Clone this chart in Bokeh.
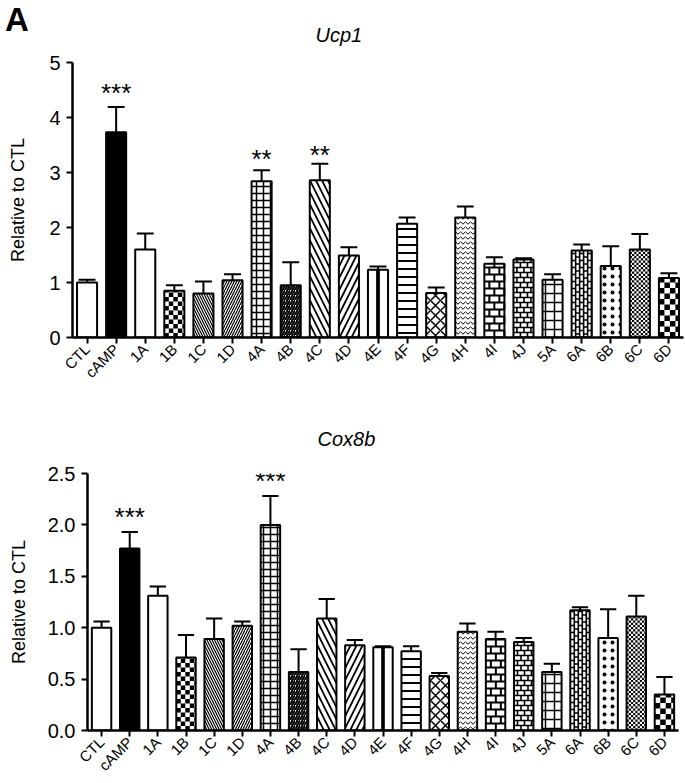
import math
from bokeh.plotting import figure
from bokeh.models import (ColumnDataSource, Range1d, FixedTicker, Div,
                          NumeralTickFormatter, CustomJSTickFormatter)
from bokeh.layouts import column, row
from bokeh.core.properties import value, field
from bokeh.embed import file_html
from bokeh.resources import INLINE

# ---------------- data ----------------
categories = ["CTL", "cAMP", "1A", "1B", "1C", "1D", "4A", "4B", "4C", "4D", "4E",
              "4F", "4G", "4H", "4I", "4J", "5A", "6A", "6B", "6C", "6D"]

ucp1_mean = [1.00, 3.73, 1.60, 0.85, 0.80, 1.04, 2.84, 0.95, 2.86, 1.49, 1.23,
             2.07, 0.81, 2.18, 1.34, 1.42, 1.05, 1.58, 1.30, 1.60, 1.08]
ucp1_sem = [0.05, 0.46, 0.29, 0.10, 0.22, 0.11, 0.20, 0.42, 0.30, 0.15, 0.06,
            0.11, 0.10, 0.20, 0.12, 0.02, 0.10, 0.11, 0.36, 0.28, 0.09]

cox8b_mean = [1.00, 1.77, 1.31, 0.71, 0.89, 1.02, 2.00, 0.57, 1.09, 0.83, 0.81,
              0.77, 0.53, 0.96, 0.89, 0.86, 0.57, 1.17, 0.90, 1.11, 0.35]
cox8b_sem = [0.06, 0.16, 0.09, 0.22, 0.20, 0.04, 0.28, 0.22, 0.19, 0.05, 0.01,
             0.05, 0.03, 0.08, 0.07, 0.04, 0.08, 0.03, 0.28, 0.20, 0.17]

ucp1_star_cats = ["cAMP", "4A", "4C"]
ucp1_star_text = ["***", "**", "**"]
ucp1_star_y = [4.45, 3.24, 3.31]

cox8b_star_cats = ["cAMP", "4A"]
cox8b_star_text = ["***", "***"]
cox8b_star_y = [2.08, 2.43]

ucp1_ticks = [0, 1, 2, 3, 4, 5]
cox8b_ticks = [0, 0.5, 1.0, 1.5, 2.0, 2.5]

# ---------------- styles ----------------
# built-in hatches: (fill, pattern, scale, weight)
HATCH = {
    "cAMP": ("black", " ", 8, 1),
    "1C": ("white", "left_diagonal_line", 5, 1.2),
    "1D": ("white", "right_diagonal_line", 5, 1.2),
    "4A": ("white", "cross", 7, 1.5),
    "4B": ("white", "right_diagonal_line", 5, 2),
    "4C": ("white", "left_diagonal_line", 12, 1.8),
    "4D": ("white", "right_diagonal_line", 12, 1.8),
    "4F": ("white", "horizontal_line", 8, 2),
    "4G": ("white", "diagonal_cross", 10, 1.5),
    "4H": ("white", "horizontal_wave", 5, 1),
    "5A": ("white", "cross", 9, 1.5),
    "6B": ("white", "dot", 8, 1.2),
}
# drawn textures: checkerboards (cell px), bricks (row px, brick px, line width)
CHECKER = {"1B": 4.5, "6C": 2.2, "6D": 5.5}
BRICK = {"4I": (7, 10, 2.0), "4J": (5, 7, 1.6)}
VBRICK = {"6A": (4, 7, 1.6)}
STRIPE = {"4E": 0.13}

FONT = "Liberation Sans"
W = 685
BW = 0.69


def checker_cells(i, h, s, xpx, ypx):
    sx, sy = s / xpx, s / ypx
    left, right = i - BW / 2, i + BW / 2
    ncol = math.ceil(BW / sx - 1e-9)
    nrow = math.ceil(h / sy - 1e-9)
    L, R, B, T = [], [], [], []
    for r in range(nrow):
        for c in range(ncol):
            if (r + c) % 2 == 0:
                L.append(left + c * sx)
                R.append(min(left + (c + 1) * sx, right))
                B.append(r * sy)
                T.append(min((r + 1) * sy, h))
    return L, R, B, T


def brick_segs(i, h, rowpx, blen, xpx, ypx):
    ry, bx = rowpx / ypx, blen / xpx
    left, right = i - BW / 2, i + BW / 2
    x0, y0, x1, y1 = [], [], [], []
    k = 0
    while k * ry < h:
        yb, yt = k * ry, min((k + 1) * ry, h)
        if k > 0:
            x0.append(left); x1.append(right); y0.append(yb); y1.append(yb)
        xx = left + (0.5 * bx if k % 2 else bx)
        while xx < right - 1e-9:
            x0.append(xx); x1.append(xx); y0.append(yb); y1.append(yt)
            xx += bx
        k += 1
    return x0, y0, x1, y1


def vbrick_segs(i, h, colpx, blen, xpx, ypx):
    cx, by = colpx / xpx, blen / ypx
    left, right = i - BW / 2, i + BW / 2
    x0, y0, x1, y1 = [], [], [], []
    k = 0
    while left + k * cx < right - 1e-9:
        xl, xr = left + k * cx, min(left + (k + 1) * cx, right)
        if k > 0:
            x0.append(xl); x1.append(xl); y0.append(0); y1.append(h)
        yy = 0.5 * by if k % 2 else by
        while yy < h:
            x0.append(xl); x1.append(xr); y0.append(yy); y1.append(yy)
            yy += by
        k += 1
    return x0, y0, x1, y1


def make_panel(title, means, sems, ymax, yticks, fmt, star_cats, star_text, star_y,
               height, top, bottom, left, right, title_left, title_standoff, label_standoff):
    n = len(categories)
    idx = list(range(n))
    tops = [m + s for m, s in zip(means, sems)]
    xpx = (W - left - right) / n
    ypx = (height - top - bottom) / ymax

    src = ColumnDataSource(dict(
        x=idx, mean=means, top=tops,
        xl=[i - 0.29 for i in idx], xr=[i + 0.29 for i in idx],
        fill=[HATCH.get(c, ("white",))[0] for c in categories],
        pattern=[HATCH.get(c, ("white", " "))[1] for c in categories],
        hscale=[HATCH.get(c, ("white", " ", 8))[2] for c in categories],
        hweight=[HATCH.get(c, ("white", " ", 8, 1))[3] for c in categories],
    ))
    p = figure(width=W, height=height, output_backend="svg", toolbar_location=None,
               x_range=Range1d(-0.5, n - 0.5), y_range=Range1d(0, ymax),
               min_border_left=left, min_border_right=right, min_border_top=top,
               min_border_bottom=bottom, outline_line_color=None,
               background_fill_color="white", border_fill_color=None)
    p.grid.visible = False

    # error bars (upper only)
    p.segment(x0="x", y0="mean", x1="x", y1="top", source=src, line_color="black", line_width=2)
    p.segment(x0="xl", y0="top", x1="xr", y1="top", source=src, line_color="black", line_width=2)

    # bar fills with built-in hatches
    p.vbar(x="x", top="mean", bottom=0, width=BW, source=src,
           fill_color="fill", line_color=None,
           hatch_pattern=field("pattern"), hatch_scale=field("hscale"),
           hatch_weight=field("hweight"), hatch_color="black")

    # checkerboards
    L, R, B, T = [], [], [], []
    for c, s in CHECKER.items():
        i = categories.index(c)
        l, r, b, t = checker_cells(i, means[i], s, xpx, ypx)
        L += l; R += r; B += b; T += t
    p.quad(left=L, right=R, bottom=B, top=T, fill_color="black", line_color=None)

    # bricks
    for c, (rowpx, blen, lw) in BRICK.items():
        i = categories.index(c)
        x0, y0, x1, y1 = brick_segs(i, means[i], rowpx, blen, xpx, ypx)
        p.segment(x0=x0, y0=y0, x1=x1, y1=y1, line_color="black", line_width=lw)
    for c, (colpx, blen, lw) in VBRICK.items():
        i = categories.index(c)
        x0, y0, x1, y1 = vbrick_segs(i, means[i], colpx, blen, xpx, ypx)
        p.segment(x0=x0, y0=y0, x1=x1, y1=y1, line_color="black", line_width=lw)

    # solid central stripe
    sx = [categories.index(c) for c in STRIPE]
    p.vbar(x=sx, top=[means[i] for i in sx], bottom=0, width=list(STRIPE.values()),
           fill_color="black", line_color=None)

    # bar outlines
    p.vbar(x="x", top="mean", bottom=0, width=BW, source=src,
           fill_color=None, line_color="black", line_width=2)

    p.text(x=[categories.index(c) for c in star_cats], y=star_y, text=star_text,
           text_align="center", text_baseline="middle", text_font=value(FONT),
           text_font_size="26px", text_color="black")

    p.title.text = title
    p.title.text_font = FONT
    p.title.text_font_style = "italic"
    p.title.text_font_size = "20px"
    p.title.text_color = "black"
    p.title.align = "left"
    p.title.offset = title_left - left
    p.title.standoff = title_standoff

    xa = p.xaxis[0]
    xa.ticker = FixedTicker(ticks=idx)
    xa.formatter = CustomJSTickFormatter(args=dict(labels=categories),
                                         code="return labels[Math.round(tick)] ?? '';")
    xa.major_label_orientation = math.pi / 4
    xa.major_label_text_font = FONT
    xa.major_label_text_font_size = "15px"
    xa.major_label_text_color = "black"
    xa.major_label_standoff = 3
    xa.axis_line_width = 2.5
    xa.major_tick_line_width = 2
    xa.major_tick_out = 6
    xa.major_tick_in = 0
    xa.minor_tick_line_color = None

    ya = p.yaxis[0]
    ya.ticker = FixedTicker(ticks=yticks)
    if fmt:
        ya.formatter = NumeralTickFormatter(format=fmt)
    ya.axis_label = "Relative to CTL"
    ya.axis_label_text_font = FONT
    ya.axis_label_text_font_size = "18px"
    ya.axis_label_text_font_style = "normal"
    ya.axis_label_text_color = "black"
    ya.axis_label_standoff = label_standoff
    ya.major_label_text_font = FONT
    ya.major_label_text_font_size = "20px"
    ya.major_label_text_color = "black"
    ya.major_label_standoff = 6
    ya.axis_line_width = 2.5
    ya.major_tick_line_width = 2
    ya.major_tick_out = 6
    ya.major_tick_in = 0
    ya.minor_tick_line_color = None
    return p


p1 = make_panel("Ucp1", ucp1_mean, ucp1_sem, 5, ucp1_ticks, None,
                ucp1_star_cats, ucp1_star_text, ucp1_star_y,
                height=390, top=62, bottom=53, left=72, right=2,
                title_left=315, title_standoff=33, label_standoff=18)
p2 = make_panel("Cox8b", cox8b_mean, cox8b_sem, 2.5, cox8b_ticks, "0.0",
                cox8b_star_cats, cox8b_star_text, cox8b_star_y,
                height=393, top=83, bottom=53, left=87, right=7,
                title_left=317, title_standoff=48, label_standoff=16)

letter = Div(text="A", width=30, height=32,
             styles={"position": "absolute", "left": "0px", "top": "1px",
                     "font-family": FONT, "font-size": "33px", "font-weight": "bold",
                     "line-height": "0.85", "color": "black", "z-index": "10"})

layout = column(letter, row(p1), row(p2), spacing=0)
open("out.html", "w").write(file_html(layout, INLINE))
